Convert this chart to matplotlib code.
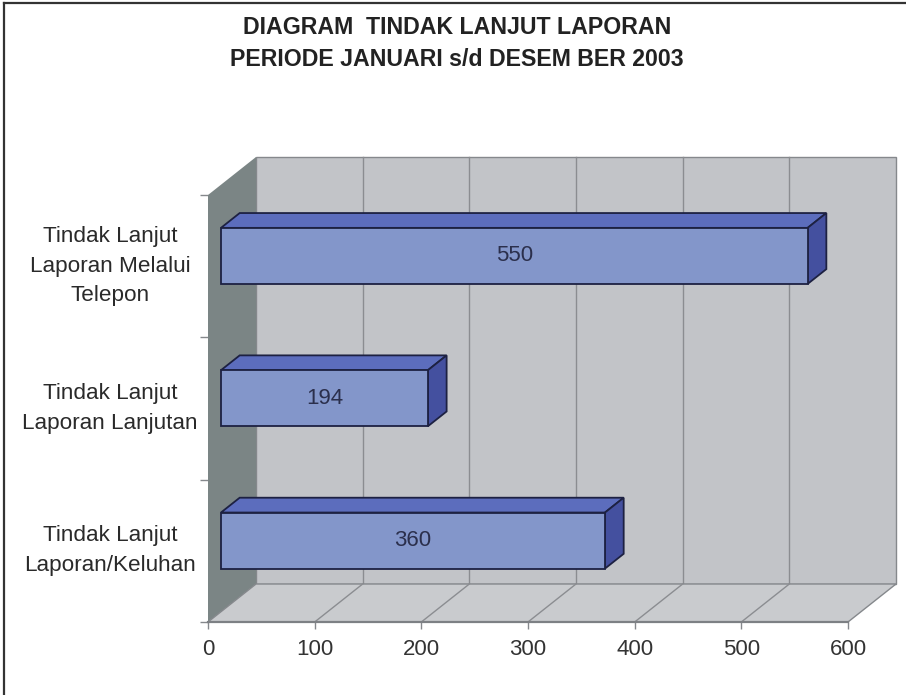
import matplotlib
matplotlib.use('Agg')
import matplotlib.pyplot as plt
from matplotlib.patches import Polygon
from matplotlib.lines import Line2D

plt.rcParams['font.family'] = ['Liberation Sans', 'DejaVu Sans']

# data (bottom to top as drawn)
categories = ['Tindak Lanjut\nLaporan/Keluhan',
              'Tindak Lanjut\nLaporan Lanjutan',
              'Tindak Lanjut\nLaporan Melalui\nTelepon']
values = [360, 194, 550]
x_ticks = [0, 100, 200, 300, 400, 500, 600]
title1 = 'DIAGRAM  TINDAK LANJUT LAPORAN'
title2 = 'PERIODE JANUARI s/d DESEM BER 2003'

XMAX = 600
NCAT = len(categories)
DX = 45.0      # depth of the box, in value units
DY = 0.267     # depth of the box, in category units
F1, F2 = 0.27, 0.66   # bar front / back depth fractions
BH = 0.197     # half bar height

wall_col = '#c2c4c8'
floor_col = '#c9cbce'
side_col = '#7b8585'
edge_grey = '#85888c'
bar_front = '#8396ca'
bar_top = '#5c6dbd'
bar_side = '#44509f'
bar_edge = '#1d2142'

W, H = 906, 695
fig = plt.figure(figsize=(W / 100, H / 100), dpi=100)
ax = fig.add_axes([208 / W, (H - 622) / H, 640 / W, 427 / H])
ax.set_xlim(0, XMAX)
ax.set_ylim(0, NCAT)
ax.patch.set_visible(False)
for s in ax.spines.values():
    s.set_visible(False)

def poly(pts, fc, ec, z, lw=1.0):
    p = Polygon(pts, closed=True, facecolor=fc, edgecolor=ec, lw=lw,
                zorder=z, clip_on=False, joinstyle='miter')
    ax.add_patch(p)

# back wall, left wall, floor
poly([(DX, DY), (XMAX + DX, DY), (XMAX + DX, NCAT + DY), (DX, NCAT + DY)],
     wall_col, edge_grey, 1)
poly([(0, 0), (DX, DY), (DX, NCAT + DY), (0, NCAT)], side_col, 'none', 2)
poly([(0, 0), (XMAX, 0), (XMAX + DX, DY), (DX, DY)], floor_col, edge_grey, 3)
ax.plot([0, XMAX], [0, 0], color='#7d8084', lw=1.6, zorder=4, clip_on=False)

# gridlines on wall and floor
for t in x_ticks[1:-1]:
    ax.plot([t + DX, t + DX], [DY, NCAT + DY], color='#8b8d91', lw=1.0,
            zorder=1.5, clip_on=False)
    ax.plot([t, t + DX], [0, DY], color='#8b8d91', lw=1.0, zorder=3.5,
            clip_on=False)

# bars
for i, v in enumerate(values):
    x0 = F1 * DX
    yc = i + 0.5 + F1 * DY
    ddx = (F2 - F1) * DX
    ddy = (F2 - F1) * DY
    poly([(x0, yc + BH), (x0 + v, yc + BH), (x0 + v + ddx, yc + BH + ddy),
          (x0 + ddx, yc + BH + ddy)], bar_top, bar_edge, 6, 1.3)
    poly([(x0 + v, yc - BH), (x0 + v + ddx, yc - BH + ddy),
          (x0 + v + ddx, yc + BH + ddy), (x0 + v, yc + BH)],
         bar_side, bar_edge, 6, 1.3)
    poly([(x0, yc - BH), (x0 + v, yc - BH), (x0 + v, yc + BH),
          (x0, yc + BH)], bar_front, bar_edge, 7, 1.3)
    ax.text(x0 + v / 2, yc, str(v), ha='center', va='center',
            fontsize=16, color='#2b2f4c', zorder=8)

# axes ticks
ax.set_xticks(x_ticks)
ax.set_xticklabels([str(t) for t in x_ticks])
ax.tick_params(axis='x', direction='out', length=5, width=1,
               color=edge_grey, labelsize=16, labelcolor='#333333', pad=7)
ax.set_yticks([i + 0.5 for i in range(NCAT)])
ax.set_yticklabels(categories)
ax.set_yticks(range(NCAT + 1), minor=True)
ax.tick_params(axis='y', which='major', length=0, pad=70.5,
               labelsize=16.2, labelcolor='#2a2a2a')
ax.tick_params(axis='y', which='minor', direction='out', length=6,
               width=1, color=edge_grey)
for lab in ax.get_yticklabels():
    lab.set_horizontalalignment('center')
    lab.set_verticalalignment('center')
    lab.set_multialignment('center')
    lab.set_linespacing(1.55)

# title
fig.text(457 / W, 1 - 27 / H, title1, ha='center', va='center',
         fontsize=16.7, fontweight='bold', color='#222222')
fig.text(457 / W, 1 - 59 / H, title2, ha='center', va='center',
         fontsize=16.7, fontweight='bold', color='#222222')

# frame on top and left
fig.add_artist(Line2D([4 / W, 4 / W], [0, 1 - 3 / H], transform=fig.transFigure,
                      color='#333333', lw=1.6))
fig.add_artist(Line2D([4 / W, 1], [1 - 3 / H, 1 - 3 / H], transform=fig.transFigure,
                      color='#333333', lw=1.6))

fig.savefig('out.png', dpi=100)
